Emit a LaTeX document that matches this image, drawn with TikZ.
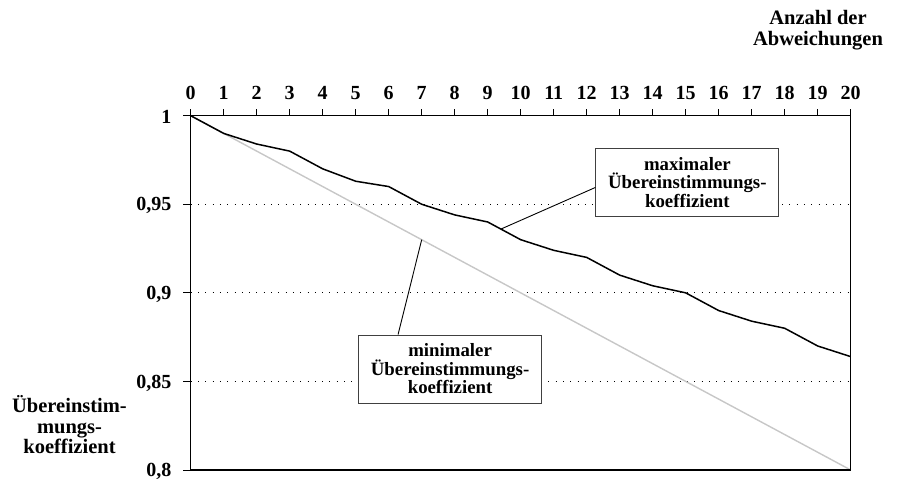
\documentclass[tikz,border=0pt]{standalone}
\usepackage{fontspec}
\setmainfont{Liberation Serif}
\usetikzlibrary{positioning}

\begin{document}
\begin{tikzpicture}[
	n_box/.style={
		rectangle,
		draw=black!75,
		line width=1pt,
		fill=white,
		align=center,
		minimum width=183pt,
		minimum height=68pt,
		inner sep=2pt,
		font=\fontsize{18.8}{18.5}\selectfont\bfseries,
		},
	n_lbl/.style={font=\fontsize{20}{20}\selectfont\bfseries, inner sep=0pt},
	n_title/.style={align=center, inner sep=0pt,
		font=\fontsize{20.5}{20.5}\selectfont\bfseries},
	l_grid/.style={dash pattern=on 1pt off 6.3pt, line width=0.8pt},
	l_max/.style={line width=1.5pt, line join=round},
	l_min/.style={line width=1.4pt, draw=black!22},
	l_axis/.style={line width=1.4pt},
	l_tick/.style={line width=0.8pt},
	l_conn/.style={line width=0.9pt},
	]

	\useasboundingbox (0,0) rectangle (897pt,484pt);

	\begin{scope}[shift={(190.7pt,-1403.2pt)}, x=33pt, y=17.715pt]

	% grid
	\foreach \v in {85,90,95}
		\draw[l_grid] (0,\v) -- (20,\v);

	% ticks and labels
	\foreach \k in {0,...,20}{
		\draw[l_tick] (\k,100) -- ++(0,6.5pt);
		\node(x\k)[n_lbl, anchor=base, yshift=16.4pt] at (\k,100) {\k};
	}
	\foreach \v/\lbl in {100/1, 95/{0,95}, 90/{0,9}, 85/{0,85}, 80/{0,8}}{
		\draw[l_tick] (0,\v) -- ++(-7.5pt,0);
		\node(y\v)[n_lbl, anchor=east, xshift=-19.2pt, yshift=-1.5pt] at (0,\v) {\lbl};
	}

	% curves
	\draw[l_min] (0,100) -- (20,80);
	\draw[l_max] (0,100) -- (1,99) -- (2,98.4) -- (3,98) -- (4,97) -- (5,96.3)
		-- (6,96) -- (7,95) -- (8,94.4) -- (9,94) -- (10,93) -- (11,92.4)
		-- (12,92) -- (13,91) -- (14,90.4) -- (15,90) -- (16,89) -- (17,88.4)
		-- (18,88) -- (19,87) -- (20,86.4);

	% frame
	\draw[l_axis] (0,80) rectangle (20,100);

	\coordinate (maxpt) at (9.4,93.6);
	\coordinate (minpt) at (7,93);
	\node(maxbox)[n_box] at (15.05,96.23) {maximaler\\Übereinstimmungs-\\koeffizient};
	\node(minbox)[n_box] at (7.86,85.7) {minimaler\\Übereinstimmungs-\\koeffizient};
	\path ([yshift=-5pt]maxbox.west) edge[l_conn] (maxpt);
	\path ([xshift=-52pt]minbox.north) edge[l_conn] (minpt);

	\end{scope}

	\node(ytitle)[n_title] at (69.5pt,59pt) {Übereinstim-\\mungs-\\koeffizient};
	\node(xtitle)[n_title] at (818pt,454pt) {Anzahl der\\Abweichungen};

\end{tikzpicture}
\end{document}
